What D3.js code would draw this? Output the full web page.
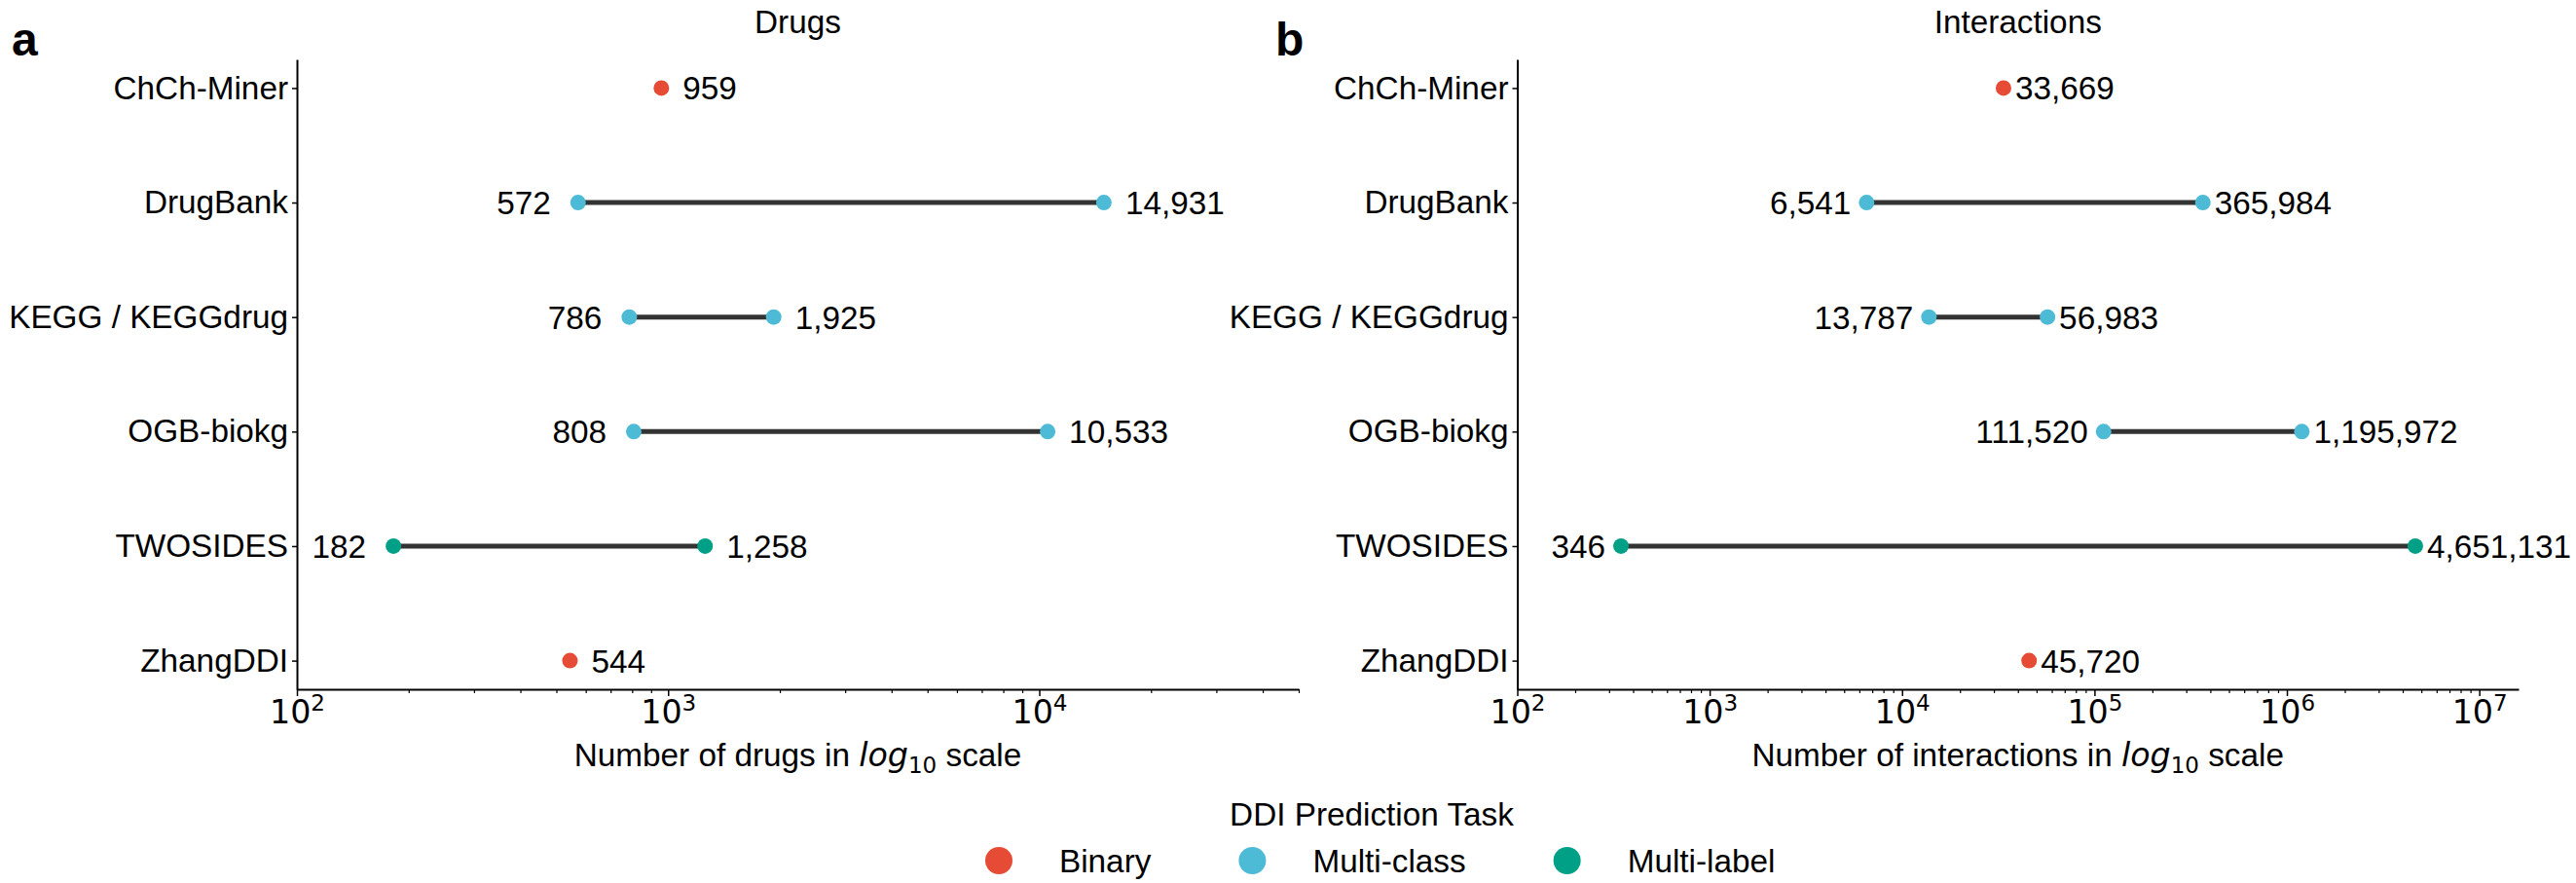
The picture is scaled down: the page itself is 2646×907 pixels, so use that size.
<!DOCTYPE html>
<html>
<head>
<meta charset="utf-8">
<script src="https://cdn.jsdelivr.net/npm/d3@7"></script>
<style>
  html, body { margin: 0; padding: 0; background: #fff; }
  svg { display: block; }
  text { font-family: "Liberation Sans", Arial, Helvetica, sans-serif; fill: #000; }
</style>
</head>
<body>
<svg id="chart" width="2646" height="907"></svg>
<script>
// ---------------- data ----------------
const datasets = ["ChCh-Miner", "DrugBank", "KEGG / KEGGdrug", "OGB-biokg", "TWOSIDES", "ZhangDDI"];
const datasetTask = ["Binary", "Multi-class", "Multi-class", "Multi-class", "Multi-label", "Binary"];
const drugsMin = [959, 572, 786, 808, 182, 544];
const drugsMax = [959, 14931, 1925, 10533, 1258, 544];
const interMin = [33669, 6541, 13787, 111520, 346, 45720];
const interMax = [33669, 365984, 56983, 1195972, 4651131, 45720];
const taskNames = ["Binary", "Multi-class", "Multi-label"];
const taskColors = ["#E64B35", "#4DBBD5", "#00A087"];
const drugExponents = [2, 3, 4];
const interExponents = [2, 3, 4, 5, 6, 7];
const panelTitles = ["Drugs", "Interactions"];
const panelLetters = ["a", "b"];
const axisLabelStart = ["Number of drugs in ", "Number of interactions in "];

// ---------------- setup ----------------
const svg = d3.select("#chart");
const FS = 33.3;
const color = d3.scaleOrdinal().domain(taskNames).range(taskColors);
const fmt = d3.format(",");

const panels = [
  { left: 305, right: 1334, domain: [1e2, 5e4], mins: drugsMin, maxs: drugsMax, exps: drugExponents,
    dxR: 22, dxL: 28, letterX: 12 },
  { left: 1558.5, right: 2587, domain: [1e2, 1.6e7], mins: interMin, maxs: interMax, exps: interExponents,
    dxR: 12, dxL: 16, letterX: 1310 }
];
const plotTop = 61, plotBottom = 708;

panels.forEach((p, pi) => {
  const x = d3.scaleLog().domain(p.domain).range([p.left, p.right]);
  const y = d3.scalePoint().domain(datasets).range([plotTop, plotBottom]).padding(0.25);
  const g = svg.append("g");

  // panel letter
  svg.append("text").attr("x", p.letterX).attr("y", 57)
    .style("font-size", "48px").style("font-weight", "bold").text(panelLetters[pi]);

  // title
  g.append("text").attr("x", (p.left + p.right) / 2).attr("y", 34)
    .attr("text-anchor", "middle").style("font-size", FS + "px").text(panelTitles[pi]);

  // y axis
  const yAxis = g.append("g").attr("transform", `translate(${p.left},0)`)
    .call(d3.axisLeft(y).tickSize(5).tickPadding(4).tickSizeOuter(0));
  yAxis.select(".domain").attr("stroke", "#000").attr("stroke-width", 2);
  yAxis.selectAll(".tick line").attr("stroke", "#000").attr("stroke-width", 1.5);
  yAxis.selectAll(".tick text").style("font-size", FS + "px")
    .style("font-family", '"Liberation Sans", Arial, sans-serif').attr("fill", "#000");

  // x axis: minor ticks
  const majors = p.exps.map(e => Math.pow(10, e));
  const minors = [];
  for (let e = 2; e <= 7; e++) {
    for (let k = 2; k <= 9; k++) {
      const v = k * Math.pow(10, e);
      if (v <= p.domain[1]) minors.push(v);
    }
  }
  const xMinor = g.append("g").attr("transform", `translate(0,${plotBottom})`)
    .call(d3.axisBottom(x).tickValues(minors).tickSize(4).tickFormat(""));
  xMinor.select(".domain").remove();
  xMinor.selectAll(".tick line").attr("stroke", "#000").attr("stroke-width", 1.2);

  const xAxis = g.append("g").attr("transform", `translate(0,${plotBottom})`)
    .call(d3.axisBottom(x).tickValues(majors).tickSize(7).tickSizeOuter(0).tickFormat(""));
  xAxis.select(".domain").attr("stroke", "#000").attr("stroke-width", 2);
  xAxis.selectAll(".tick line").attr("stroke", "#000").attr("stroke-width", 1.5);
  xAxis.selectAll(".tick").each(function (d) {
    const t = d3.select(this).append("text")
      .attr("y", 35).attr("text-anchor", "middle")
      .style("font-family", '"DejaVu Sans", sans-serif').style("font-size", FS + "px")
      .attr("fill", "#000");
    t.append("tspan").text("10");
    t.append("tspan").attr("dy", -13).style("font-size", "23px").text(String(Math.round(Math.log10(d))));
  });

  // x axis label
  const lab = g.append("text").attr("x", (p.left + p.right) / 2).attr("y", 787)
    .attr("text-anchor", "middle").style("font-size", FS + "px");
  lab.append("tspan").text(axisLabelStart[pi]);
  lab.append("tspan").style("font-family", '"DejaVu Sans", sans-serif').style("font-style", "italic").text("log");
  lab.append("tspan").attr("dy", 7).style("font-family", '"DejaVu Sans", sans-serif').style("font-size", "23px").text("10");
  lab.append("tspan").attr("dy", -7).text(" scale");

  // data
  const rows = datasets.map((name, i) => ({ name, task: datasetTask[i], min: p.mins[i], max: p.maxs[i] }));

  g.selectAll("line.range").data(rows.filter(r => r.min !== r.max)).join("line")
    .attr("class", "range")
    .attr("x1", d => x(d.min)).attr("x2", d => x(d.max))
    .attr("y1", d => y(d.name)).attr("y2", d => y(d.name))
    .attr("stroke", "#333333").attr("stroke-width", 5);

  const pts = [];
  rows.forEach(r => {
    pts.push({ name: r.name, task: r.task, v: r.max, side: "right" });
    if (r.min !== r.max) pts.push({ name: r.name, task: r.task, v: r.min, side: "left" });
  });

  g.selectAll("circle.pt").data(pts).join("circle")
    .attr("class", "pt")
    .attr("cx", d => x(d.v)).attr("cy", d => y(d.name)).attr("r", 8)
    .attr("fill", d => color(d.task));

  g.selectAll("text.val").data(pts).join("text")
    .attr("class", "val")
    .attr("x", d => x(d.v) + (d.side === "right" ? p.dxR : -p.dxL))
    .attr("y", d => y(d.name)).attr("dy", "0.36em")
    .attr("text-anchor", d => d.side === "right" ? "start" : "end")
    .style("font-size", FS + "px")
    .text(d => fmt(d.v));
});

// ---------------- legend ----------------
const leg = svg.append("g");
leg.append("text").attr("x", 1409).attr("y", 848).attr("text-anchor", "middle")
  .style("font-size", FS + "px").text("DDI Prediction Task");
let cx = 1012;
taskNames.forEach((name, i) => {
  leg.append("circle").attr("cx", cx + 14).attr("cy", 884).attr("r", 14).attr("fill", taskColors[i]);
  const t = leg.append("text").attr("x", cx + 14 + 62).attr("y", 896)
    .style("font-size", FS + "px").text(name);
  const w = t.node().getComputedTextLength();
  cx = cx + 14 + 62 + w + 90;
});
</script>
</body>
</html>
